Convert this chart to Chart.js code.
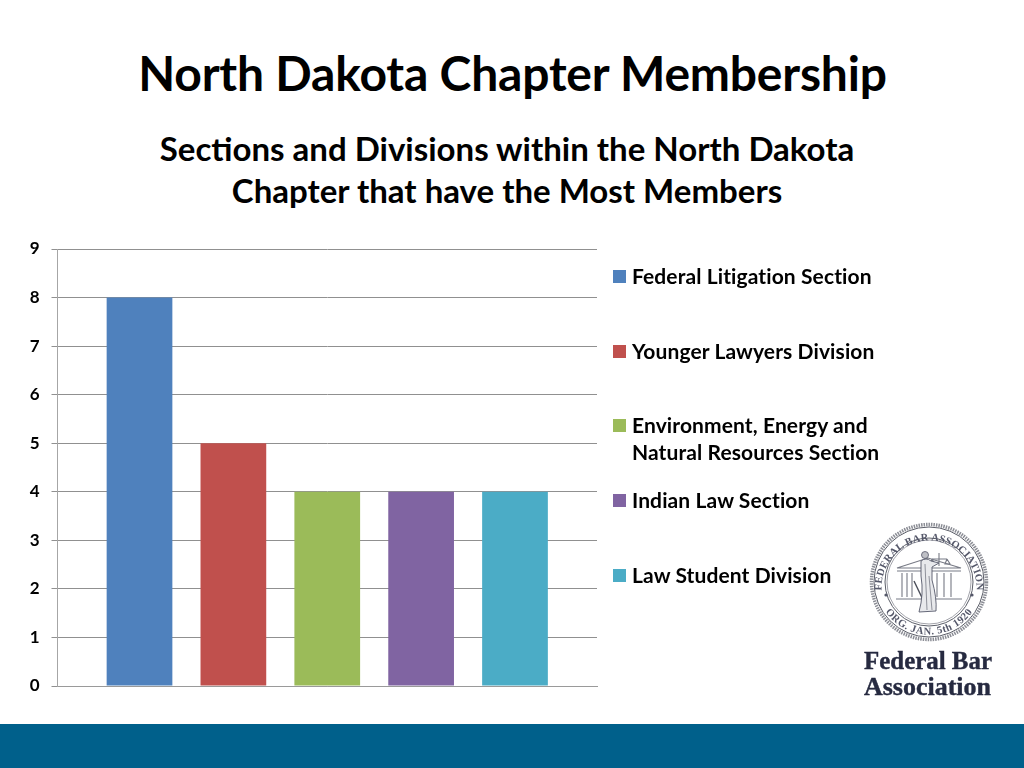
<!DOCTYPE html>
<html>
<head>
<meta charset="utf-8">
<title>North Dakota Chapter Membership</title>
<script src="https://cdn.jsdelivr.net/npm/chart.js@4"></script>
<style>
  html, body { margin: 0; padding: 0; background: #fff; }
  body { width: 1024px; height: 768px; position: relative; overflow: hidden; font-family: Lato, sans-serif; font-weight: 700; color: #000; }
  #chart { position: absolute; left: 0; top: 0; }
  h1, h2 { position: absolute; margin: 0; left: 0; text-align: center; font-weight: 700; white-space: nowrap; }
  h1 { top: 45px; width: 1025px; font-size: 48px; line-height: 56px; letter-spacing: -0.2px; }
  h2 { top: 127px; width: 1014px; font-size: 33px; line-height: 42px; }
  #legend { position: absolute; left: 613px; top: 262px; margin: 0; padding: 0; list-style: none; font-size: 21px; line-height: 27px; letter-spacing: 0.1px; }
  #legend li { height: 74.7px; padding-left: 19px; position: relative; white-space: pre-line; }
  #legend i { position: absolute; left: 0; top: 8px; width: 13px; height: 13px; }
  #footer { position: absolute; left: 0; top: 724px; width: 1024px; height: 44px; background: #00608b; }
  #seal { position: absolute; left: 860px; top: 516px; }
</style>
</head>
<body>
<h1>North Dakota Chapter Membership</h1>
<h2>Sections and Divisions within the North Dakota<br>Chapter that have the Most Members</h2>
<canvas id="chart" width="1024" height="768"></canvas>
<ul id="legend"></ul>

<svg id="seal" width="140" height="190" viewBox="0 0 140 190">
  <defs>
    <path id="sealTop" d="M 21.5 72 A 47.5 47.5 0 1 1 116.5 72"></path>
    <path id="sealBottom" d="M 21 88 A 53 53 0 0 0 117 88"></path>
  </defs>
  <circle cx="69" cy="66" r="57.5" fill="none" stroke="#8b8d95" stroke-width="3.5" stroke-dasharray="1.5 1"></circle>
  <circle cx="69" cy="66" r="55" fill="none" stroke="#5b5e68" stroke-width="1"></circle>
  <circle cx="69" cy="66" r="44" fill="none" stroke="#5b5e68" stroke-width="1"></circle>
  <circle cx="69" cy="66" r="42" fill="none" stroke="#8b8d95" stroke-width="0.8"></circle>
  <text font-family="Liberation Serif" font-size="10.5" fill="#55586a" letter-spacing="0.2">
    <textPath href="#sealTop" startOffset="50%" text-anchor="middle">FEDERAL BAR ASSOCIATION</textPath>
  </text>
  <text font-family="Liberation Serif" font-size="10.5" fill="#55586a" letter-spacing="0.5">
    <textPath href="#sealBottom" startOffset="50%" text-anchor="middle">ORG. JAN. 5th 1920</textPath>
  </text>
  <g fill="none" stroke="#777a85" stroke-width="1.1">
    <path d="M 37 52 L 68 42 L 101 52 Z"></path>
    <path d="M 37 55 H 101 M 36 83 H 102"></path>
    <path d="M 42 57 V 81 M 47 57 V 81 M 52 57 V 81 M 77 57 V 81 M 84 57 V 81 M 91 57 V 81"></path>
    <path d="M 72 43 H 87 M 79 37 V 50 M 72 43 L 70 48 H 75 L 72 43 M 87 43 L 85 48 H 90 L 87 43"></path>
    <path d="M 54 65 L 66 90" stroke="#4a4d58" stroke-width="1.4"></path>
  </g>
  <circle cx="65" cy="39" r="3.5" fill="#bfc0c6" stroke="#55586a" stroke-width="0.8"></circle>
  <path d="M 61 45 Q 66 41 71 45 L 79 47 L 72 51 L 72 64 Q 77 82 76 95 L 59 96 Q 64 78 61 60 Z" fill="#e8e9ec" stroke="#55586a" stroke-width="0.9"></path>
  <path d="M 65 48 L 67 94 M 69 60 L 72 94" fill="none" stroke="#777a85" stroke-width="0.8"></path>
  <circle cx="26" cy="79" r="1.6" fill="#55586a"></circle>
  <circle cx="112" cy="79" r="1.6" fill="#55586a"></circle>
  <text x="4" y="153" textLength="128" lengthAdjust="spacingAndGlyphs" font-family="Liberation Serif" font-size="25" font-weight="700" fill="#262a40" stroke="#262a40" stroke-width="0.4">Federal Bar</text>
  <text x="4" y="179" textLength="127" lengthAdjust="spacingAndGlyphs" font-family="Liberation Serif" font-size="25" font-weight="700" fill="#262a40" stroke="#262a40" stroke-width="0.4">Association</text>
</svg>

<div id="footer"></div>

<script>
// one category, each section is its own series
const categories = [''];
const sectionNames = [
  'Federal Litigation Section',
  'Younger Lawyers Division',
  'Environment, Energy and\nNatural Resources Section',
  'Indian Law Section',
  'Law Student Division'
];
const memberCounts = [8, 5, 4, 4, 4];
const sectionColors = ['#4f81bd', '#c0504d', '#9bbb59', '#8064a2', '#4bacc6'];
const yTicks = [0, 1, 2, 3, 4, 5, 6, 7, 8, 9];

const datasets = sectionNames.map((name, i) => ({
  label: name.replace('\n', ' '),
  data: [memberCounts[i]],
  backgroundColor: sectionColors[i],
  categoryPercentage: 0.87,
  barPercentage: 0.7
}));

new Chart(document.getElementById('chart'), {
  type: 'bar',
  data: { labels: categories, datasets: datasets },
  options: {
    responsive: false,
    animation: false,
    layout: { padding: { left: 20, top: 249, right: 427, bottom: 74 } },
    plugins: { legend: { display: false }, tooltip: { enabled: false } },
    scales: {
      x: {
        grid: { display: false },
        border: { color: '#9a9a9a' },
        ticks: { display: false }
      },
      y: {
        min: 0,
        max: 9,
        afterFit: (scale) => { scale.width = 37.5; },
        afterBuildTicks: (scale) => { scale.ticks = yTicks.map((v) => ({ value: v })); },
        grid: { color: '#909090', tickLength: 6, drawOnChartArea: true },
        border: { color: '#a6a6a6' },
        ticks: {
          color: '#000',
          padding: 12,
          font: { family: 'Lato', size: 17, weight: '700' }
        }
      }
    }
  }
});

// legend built from the same arrays
const legend = document.getElementById('legend');
sectionNames.forEach((name, i) => {
  const row = document.createElement('li');
  const swatch = document.createElement('i');
  swatch.style.background = sectionColors[i];
  row.appendChild(swatch);
  row.appendChild(document.createTextNode(name));
  legend.appendChild(row);
});
</script>
</body>
</html>
